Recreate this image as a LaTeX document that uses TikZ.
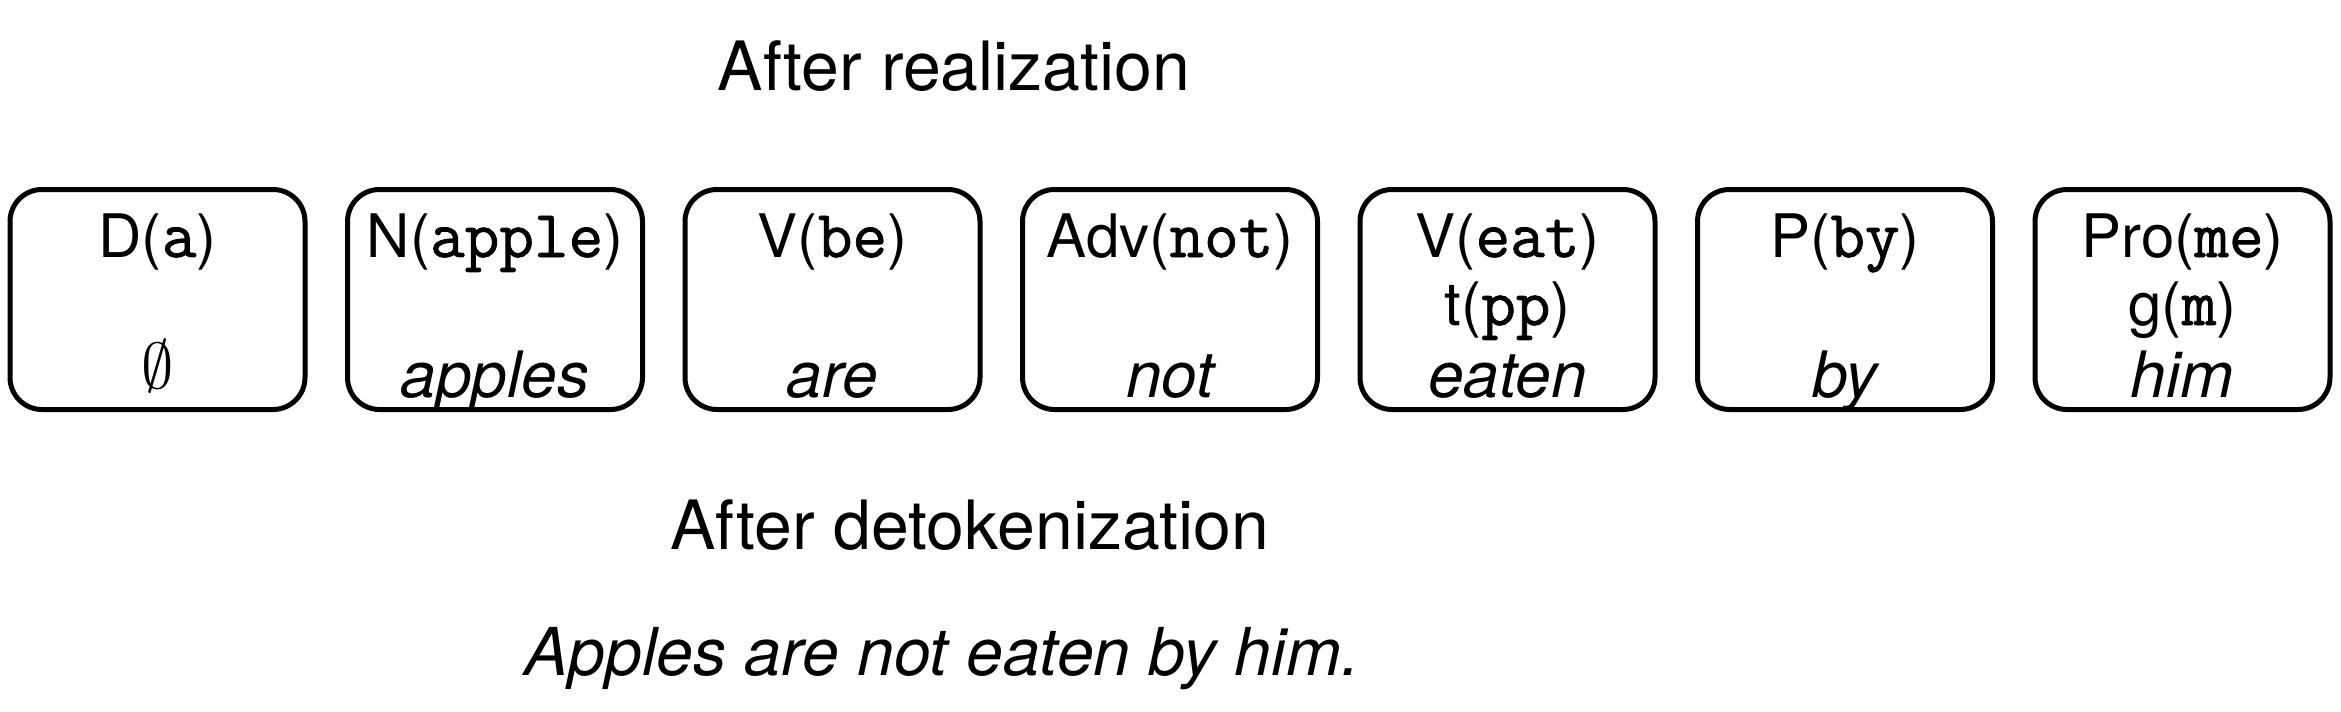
\documentclass[tikz,border=0pt]{standalone}
\usepackage{fontspec}
\usepackage{graphicx}
\setmainfont{TeX Gyre Heros}
\setmonofont{Latin Modern Mono}[Scale=1.12, FakeBold=1.2]
\begin{document}
\begin{tikzpicture}[x=0.5pt,y=-0.5pt,
  tok/.style={draw, line width=2.5pt, rounded corners=16pt, minimum width=147.5pt, minimum height=110pt, inner sep=0pt},
  lab/.style={anchor=base, font=\fontsize{30}{36}\selectfont, inner sep=0pt},
  surf/.style={anchor=base, font=\fontsize{32}{38}\selectfont\itshape, inner sep=0pt},
  title/.style={anchor=base, font=\fontsize{34}{40}\selectfont, inner sep=0pt},
  sent/.style={anchor=base, font=\fontsize{33}{40}\selectfont\itshape, inner sep=0pt}]
\useasboundingbox (0,0) rectangle (2341,712);
\node[title] (t1) at (954,90) {After realization};
\node[tok] (b1) at (157.5,299.5) {};
\node[tok] (b2) at (495,299.5) {};
\node[tok] (b3) at (832.5,299.5) {};
\node[tok] (b4) at (1170,299.5) {};
\node[tok] (b5) at (1507.5,299.5) {};
\node[tok] (b6) at (1845,299.5) {};
\node[tok] (b7) at (2182.5,299.5) {};
% row 1
\node[lab] (l1) at (157.5,257) {D(\texttt{a})};
\node[lab] (l2) at (495,257) {N(\texttt{apple})};
\node[lab] (l3) at (832.5,257) {V(\texttt{be})};
\node[lab] (l4) at (1170,257) {Adv(\texttt{not})};
\node[lab] (l5) at (1507.5,257) {V(\texttt{eat})};
\node[lab] (l6) at (1845,257) {P(\texttt{by})};
\node[lab] (l7) at (2182.5,257) {Pro(\texttt{me})};
% row 2
\node[lab] (m5) at (1507.5,325) {t(\texttt{pp})};
\node[lab] (m7) at (2182.5,325) {g(\texttt{m})};
% row 3
\node[lab] (s1) at (157.5,388) {\scalebox{1.3}{$\emptyset$}};
\node[surf] (s2) at (495,397) {apples};
\node[surf] (s3) at (832.5,397) {are};
\node[surf] (s4) at (1170,397) {not};
\node[surf] (s5) at (1507.5,397) {eaten};
\node[surf] (s6) at (1845,397) {by};
\node[surf] (s7) at (2182.5,397) {him};
\node[title] (t2) at (970,549) {After detokenization};
\node[sent] (t3) at (942,675) {Apples are not eaten by him.};
\end{tikzpicture}
\end{document}
